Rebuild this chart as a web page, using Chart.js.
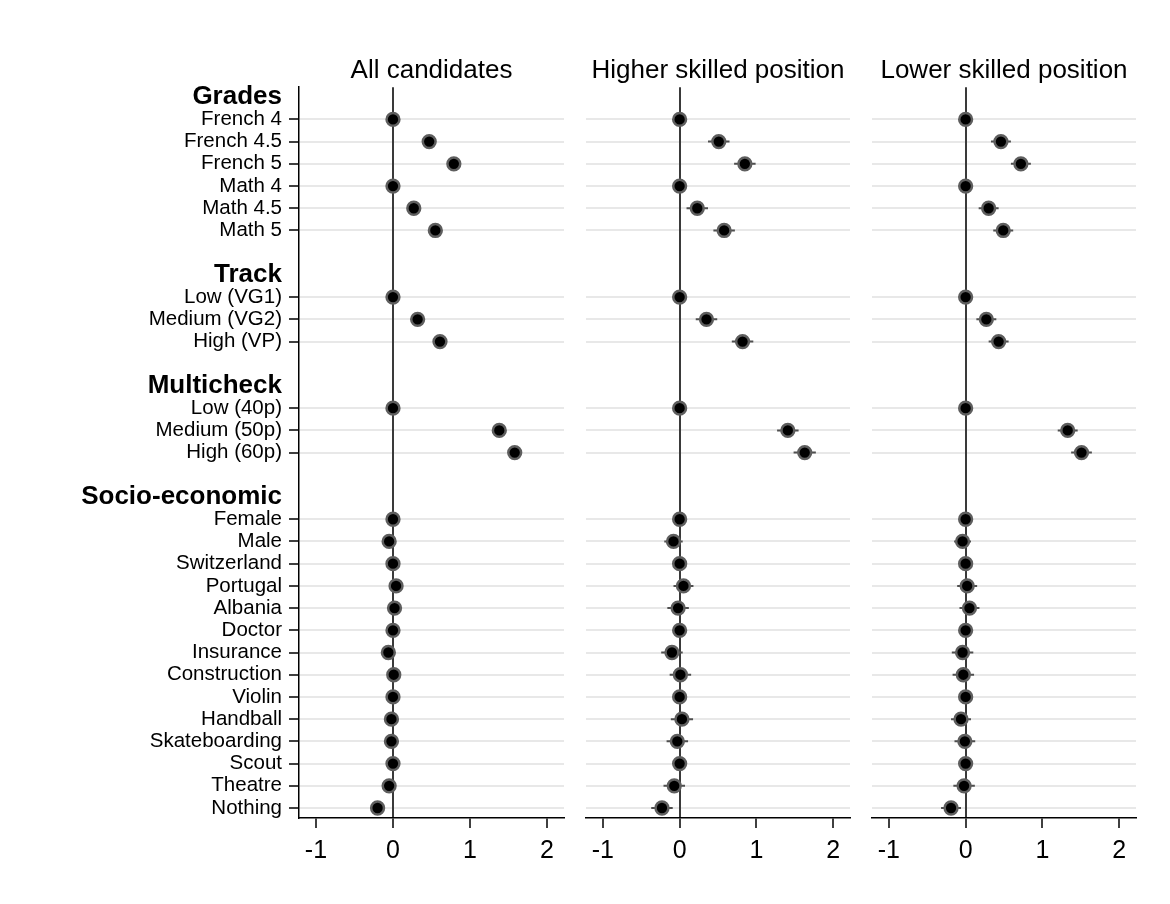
<!DOCTYPE html>
<html>
<head>
<meta charset="utf-8">
<title>Coefficient plot</title>
<script src="https://cdn.jsdelivr.net/npm/chart.js@4.4.1/dist/chart.umd.min.js"></script>
<style>
  html, body { margin: 0; padding: 0; background: #ffffff; }
  #wrap { position: relative; width: 1170px; height: 904px; overflow: hidden; background: #fff; }
  canvas { position: absolute; top: 0; }
</style>
</head>
<body>
<div id="wrap">
  <canvas id="c1" width="573" height="904" style="left:0px"></canvas>
  <canvas id="c2" width="289" height="904" style="left:570px"></canvas>
  <canvas id="c3" width="314" height="904" style="left:856px"></canvas>
</div>
<script>
// Attribute groups and their levels, top to bottom
const sections = ['Grades', 'Track', 'Multicheck', 'Socio-economic'];
const gradeItems = ['French 4', 'French 4.5', 'French 5', 'Math 4', 'Math 4.5', 'Math 5'];
const trackItems = ['Low (VG1)', 'Medium (VG2)', 'High (VP)'];
const multicheckItems = ['Low (40p)', 'Medium (50p)', 'High (60p)'];
const socioItems = ['Female', 'Male', 'Switzerland', 'Portugal', 'Albania', 'Doctor', 'Insurance',
  'Construction', 'Violin', 'Handball', 'Skateboarding', 'Scout', 'Theatre', 'Nothing'];

const panelTitles = ['All candidates', 'Higher skilled position', 'Lower skilled position'];
const xTicks = [-1, 0, 1, 2];

// Point estimates and half-widths of the confidence intervals, one entry per level
const allEst = [0, 0.47, 0.79, 0, 0.27, 0.55, 0, 0.32, 0.61, 0, 1.38, 1.58,
  0, -0.05, 0, 0.04, 0.02, 0, -0.06, 0.01, 0, -0.02, -0.02, 0, -0.05, -0.20];
const allCI = [0, 0.07, 0.07, 0, 0.07, 0.07, 0, 0.07, 0.07, 0, 0.07, 0.07,
  0, 0.06, 0, 0.07, 0.07, 0, 0.07, 0.07, 0, 0.07, 0.07, 0, 0.07, 0.07];

const higherEst = [0, 0.51, 0.85, 0, 0.23, 0.58, 0, 0.35, 0.82, 0, 1.41, 1.63,
  0, -0.08, 0, 0.05, -0.02, 0, -0.10, 0.01, 0, 0.03, -0.03, 0, -0.07, -0.23];
const higherCI = [0, 0.14, 0.14, 0, 0.14, 0.14, 0, 0.14, 0.14, 0, 0.14, 0.145,
  0, 0.12, 0, 0.13, 0.14, 0, 0.14, 0.14, 0, 0.145, 0.14, 0, 0.14, 0.14];

const lowerEst = [0, 0.46, 0.72, 0, 0.30, 0.49, 0, 0.27, 0.43, 0, 1.33, 1.51,
  0, -0.04, 0, 0.02, 0.05, 0, -0.04, -0.03, 0, -0.06, -0.01, 0, -0.02, -0.19];
const lowerCI = [0, 0.13, 0.13, 0, 0.13, 0.13, 0, 0.13, 0.13, 0, 0.13, 0.135,
  0, 0.11, 0, 0.13, 0.13, 0, 0.14, 0.14, 0, 0.13, 0.135, 0, 0.14, 0.13];

// Build the row layout: a bold header per group, its levels, and a spacer between groups
const sectionItems = [gradeItems, trackItems, multicheckItems, socioItems];
const rows = [];
let slot = 0;
sections.forEach((name, s) => {
  if (s > 0) slot++;
  rows.push({ slot: slot, label: name, header: true });
  slot++;
  sectionItems[s].forEach(item => {
    rows.push({ slot: slot, label: item, header: false });
    slot++;
  });
});
const lastSlot = slot - 1;
const itemSlots = rows.filter(r => !r.header).map(r => r.slot);
const rowBySlot = {};
rows.forEach(r => { rowBySlot[r.slot] = r; });
const isHeader = v => !!(rowBySlot[v] && rowBySlot[v].header);

const FONT = "'Liberation Sans', Arial, Helvetica, sans-serif";
const CLEAR = 'rgba(0,0,0,0)';

function makePanel(canvasId, title, est, ci, withLabels, pad) {
  const points = est.map((v, i) => ({ x: v, y: itemSlots[i] }));
  const bars = [];
  est.forEach((v, i) => {
    bars.push({ x: v - ci[i], y: itemSlots[i] });
    bars.push({ x: v + ci[i], y: itemSlots[i] });
    bars.push({ x: null, y: null });
  });

  return new Chart(document.getElementById(canvasId), {
    type: 'scatter',
    data: {
      datasets: [
        {
          label: 'estimate',
          data: points,
          order: 0,
          pointRadius: 6.4,
          pointHoverRadius: 6.4,
          pointBackgroundColor: '#000000',
          pointBorderColor: '#5e5e5e',
          pointBorderWidth: 2.5
        },
        {
          label: 'interval',
          data: bars,
          order: 1,
          showLine: true,
          spanGaps: false,
          borderColor: '#4f4f4f',
          borderWidth: 2,
          pointRadius: 0,
          pointHoverRadius: 0
        }
      ]
    },
    options: {
      responsive: false,
      animation: false,
      events: [],
      layout: { padding: pad },
      plugins: {
        legend: { display: false },
        tooltip: { enabled: false },
        title: {
          display: true,
          text: title,
          fullSize: false,
          color: '#000',
          font: { family: FONT, size: 26, weight: 'normal', lineHeight: 1.2 },
          padding: { top: 0, bottom: 1 }
        }
      },
      scales: {
        x: {
          type: 'linear',
          min: -1.22,
          max: 2.22,
          afterBuildTicks: s => { s.ticks = xTicks.map(v => ({ value: v })); },
          afterFit: s => { s.height = 60; s.paddingLeft = 0; s.paddingRight = 0; },
          ticks: {
            color: '#000',
            padding: 8,
            maxRotation: 0,
            autoSkip: false,
            font: { family: FONT, size: 25 },
            callback: v => String(v)
          },
          grid: {
            z: -1,
            drawOnChartArea: true,
            drawTicks: true,
            tickLength: 10,
            tickWidth: 1.5,
            tickColor: '#000',
            lineWidth: 2,
            color: ctx => (ctx.tick && ctx.tick.value === 0) ? '#3a3a3a' : CLEAR
          },
          border: { display: true, color: '#000', width: 1.5 }
        },
        y: {
          type: 'linear',
          reverse: true,
          min: -0.45,
          max: lastSlot + 0.45,
          afterBuildTicks: s => { s.ticks = rows.map(r => ({ value: r.slot })); },
          afterFit: s => { s.width = withLabels ? 299 : 0; s.paddingTop = 0; s.paddingBottom = 0; },
          ticks: {
            display: withLabels,
            autoSkip: false,
            color: '#000',
            padding: 7,
            font: ctx => (ctx.tick && isHeader(ctx.tick.value))
              ? { family: FONT, size: 26, weight: 'bold' }
              : { family: FONT, size: 20.5, weight: 'normal' },
            callback: v => (rowBySlot[v] ? rowBySlot[v].label : '')
          },
          grid: {
            z: -2,
            drawOnChartArea: true,
            drawTicks: withLabels,
            tickLength: 10,
            tickWidth: 1.5,
            lineWidth: 2,
            color: ctx => (ctx.tick && !isHeader(ctx.tick.value)) ? '#e8e8e8' : CLEAR,
            tickColor: ctx => (ctx.tick && !isHeader(ctx.tick.value)) ? '#000' : CLEAR
          },
          border: { display: withLabels, color: '#000', width: 1.5 }
        }
      }
    }
  });
}

makePanel('c1', panelTitles[0], allEst, allCI, true, { top: 55, right: 9, bottom: 26, left: 0 });
makePanel('c2', panelTitles[1], higherEst, higherCI, false, { top: 55, right: 9, bottom: 26, left: 16 });
makePanel('c3', panelTitles[2], lowerEst, lowerCI, false, { top: 55, right: 34, bottom: 26, left: 16 });
</script>
</body>
</html>
